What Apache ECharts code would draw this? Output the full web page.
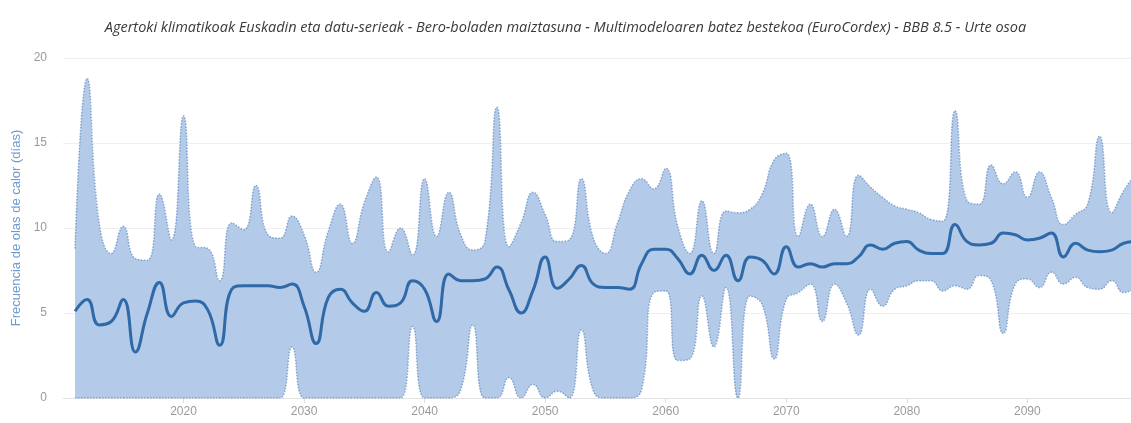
<!DOCTYPE html>
<html>
<head>
<meta charset="utf-8">
<script src="https://cdn.jsdelivr.net/npm/echarts@6/dist/echarts.min.js"></script>
<style>
  html, body { margin: 0; padding: 0; background: #ffffff; }
  #chart { width: 1131px; height: 423px; }
</style>
</head>
<body>
<div id="chart"></div>
<script>
// Heat-wave frequency (days per year), multi-model ensemble, RCP 8.5, 2011-2099
const firstYear = 2011;

// Maximum of all models for each year
const upperValues = [
  8.8, 18.8, 10.3, 8.5, 10.1, 8.2, 8.1, 12.0, 9.3, 16.6,
  8.9, 8.8, 6.9, 10.3, 9.9, 12.5, 9.6, 9.4, 10.7, 9.6,
  7.4, 9.8, 11.4, 9.1, 11.5, 13.0, 8.6, 10.0, 8.4, 12.9,
  9.5, 12.1, 9.6, 8.7, 9.2, 17.1, 8.9, 10.3, 12.1, 10.8,
  9.2, 9.3, 12.9, 9.4, 8.5, 10.3, 12.2, 12.9, 12.3, 13.5,
  10.1, 8.5, 11.6, 8.5, 11.0, 10.9, 11.1, 12.0, 14.0, 14.4,
  9.5, 11.4, 9.5, 11.1, 9.5, 13.1, 12.4, 11.8, 11.3, 11.1,
  10.9, 10.5, 10.4, 16.9, 11.6, 11.4, 13.7, 12.6, 13.3, 11.8,
  13.3, 11.8, 10.2, 10.8, 11.4, 15.4, 10.9, 12.2, 13.2
];

// Minimum of all models for each year
const lowerValues = [
  0, 0, 0, 0, 0, 0, 0, 0, 0, 0,
  0, 0, 0, 0, 0, 0, 0, 0, 3.0, 0,
  0, 0, 0, 0, 0, 0, 0, 0, 4.2, 0,
  0, 0, 0.5, 4.3, 0, 0, 1.2, 0, 0.8, 0,
  0.4, 0, 4.0, 0.4, 0, 0, 0, 0.5, 6.2, 6.3,
  2.2, 2.3, 6.0, 3.0, 6.5, 0, 6.0, 5.5, 2.3, 5.8,
  6.2, 6.7, 4.5, 6.7, 5.6, 3.7, 6.4, 5.4, 6.4, 6.6,
  6.9, 6.9, 6.3, 6.6, 6.4, 7.2, 6.9, 3.8, 6.7, 7.0,
  6.5, 7.4, 6.7, 7.1, 6.5, 6.4, 6.9, 6.2, 6.5
];

// Ensemble mean
const meanValues = [
  5.1, 5.8, 4.3, 4.5, 5.8, 2.7, 5.0, 6.8, 4.8, 5.6,
  5.7, 5.2, 3.1, 6.4, 6.6, 6.6, 6.6, 6.5, 6.7, 5.4,
  3.2, 5.9, 6.4, 5.6, 5.1, 6.2, 5.4, 5.6, 6.9, 6.4,
  4.5, 7.3, 6.9, 6.9, 7.0, 7.7, 6.35, 5.0, 6.35, 8.3,
  6.45, 7.0, 7.8, 6.7, 6.5, 6.5, 6.4, 7.9, 8.75, 8.75,
  8.2, 7.3, 8.4, 7.5, 8.4, 6.9, 8.3, 8.1, 7.3, 8.9,
  7.7, 7.9, 7.7, 7.9, 7.9, 8.3, 9.0, 8.75, 9.1, 9.2,
  8.7, 8.5, 8.5, 10.2, 9.2, 9.0, 9.1, 9.7, 9.6, 9.3,
  9.4, 9.7, 8.3, 9.1, 8.7, 8.6, 8.7, 9.1, 9.2
];

const xTickYears = [2020, 2030, 2040, 2050, 2060, 2070, 2080, 2090];

const titleText = 'Agertoki klimatikoak Euskadin eta datu-serieak - Bero-boladen maiztasuna - Multimodeloaren batez bestekoa (EuroCordex) - BBB 8.5 - Urte osoa';
const yAxisTitle = 'Frecuencia de olas de calor (días)';

const years = upperValues.map((_, i) => firstYear + i);
const pairs = (arr) => arr.map((v, i) => [years[i], v]);
// value first, year second: the stacked dimension must be the y value
const pairsValueFirst = (arr) => arr.map((v, i) => [v, years[i]]);
const bandSpan = upperValues.map((v, i) => +(v - lowerValues[i]).toFixed(2));

const edgeStyle = { color: 'rgba(78,122,182,0.6)', width: 1.5, type: 'dotted' };

const chart = echarts.init(document.getElementById('chart'), null, { renderer: 'canvas' });

chart.setOption({
  animation: false,
  backgroundColor: '#ffffff',
  title: {
    text: titleText,
    left: 'center',
    top: 15,
    textStyle: {
      fontFamily: 'Open Sans',
      fontStyle: 'italic',
      fontWeight: 'normal',
      fontSize: 14.5,
      color: '#3a3a3a'
    }
  },
  grid: { left: 63, right: 0, top: 58, bottom: 25, containLabel: false },
  xAxis: {
    type: 'value',
    min: 2010,
    max: 2098.6,
    splitLine: { show: false },
    axisLine: { show: true, lineStyle: { color: '#e3e3e3', width: 1 } },
    axisTick: { show: true, customValues: xTickYears, length: 5, lineStyle: { color: '#dcdcdc' } },
    axisLabel: {
      customValues: xTickYears,
      color: '#9a9a9a',
      fontFamily: 'Liberation Sans',
      fontSize: 12,
      margin: 8,
      formatter: (v) => String(v)
    }
  },
  yAxis: {
    type: 'value',
    min: 0,
    max: 20,
    interval: 5,
    name: yAxisTitle,
    nameLocation: 'middle',
    nameGap: 40,
    nameRotate: 90,
    nameTextStyle: { color: '#6b9bd2', fontFamily: 'Liberation Sans', fontSize: 13 },
    axisLine: { show: false },
    axisTick: { show: false },
    splitLine: { lineStyle: { color: '#efefef', width: 1 } },
    axisLabel: {
      color: '#9a9a9a',
      fontFamily: 'Liberation Sans',
      fontSize: 12,
      margin: 16
    }
  },
  series: [
    {
      name: 'band-base',
      type: 'line',
      stack: 'band',
      data: pairsValueFirst(lowerValues),
      encode: { x: 1, y: 0 },
      smooth: 0.5,
      symbol: 'none',
      lineStyle: { opacity: 0 },
      silent: true,
      z: 1
    },
    {
      name: 'Tartea',
      type: 'line',
      stack: 'band',
      data: pairsValueFirst(bandSpan),
      encode: { x: 1, y: 0 },
      smooth: 0.5,
      symbol: 'none',
      lineStyle: { opacity: 0 },
      areaStyle: { color: '#b3cbe8', opacity: 1 },
      silent: true,
      z: 1
    },
    {
      name: 'Maximoa',
      type: 'line',
      data: pairs(upperValues),
      smooth: 0.5,
      symbol: 'none',
      lineStyle: edgeStyle,
      z: 2
    },
    {
      name: 'Minimoa',
      type: 'line',
      data: pairs(lowerValues),
      smooth: 0.5,
      symbol: 'none',
      lineStyle: edgeStyle,
      z: 2
    },
    {
      name: 'Batez bestekoa',
      type: 'line',
      data: pairs(meanValues),
      smooth: 0.5,
      symbol: 'none',
      lineStyle: { color: '#2f69a8', width: 3 },
      z: 3
    }
  ]
});
</script>
</body>
</html>
